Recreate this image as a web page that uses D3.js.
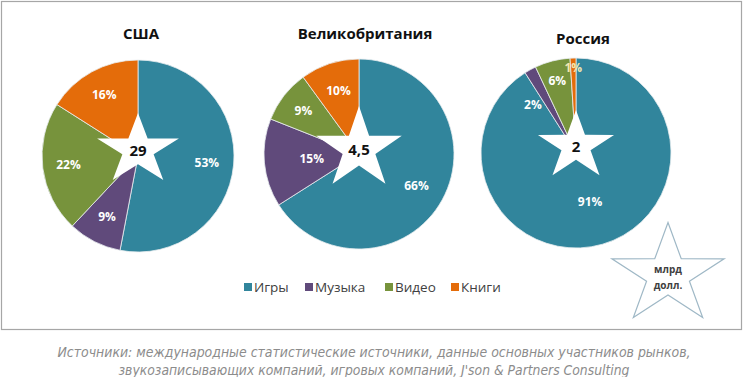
<!DOCTYPE html>
<html>
<head>
<meta charset="utf-8">
<script src="https://cdn.jsdelivr.net/npm/d3@7"></script>
<style>
  html, body { margin: 0; padding: 0; background: #fff; }
  svg { display: block; }
</style>
</head>
<body>
<script>
// data
const countries = ["США", "Великобритания", "Россия"];
const totals = ["29", "4,5", "2"];
const categories = ["Игры", "Музыка", "Видео", "Книги"];
const shares = [
  [53, 9, 22, 16],
  [66, 15, 9, 10],
  [91, 2, 6, 1]
];
const unitLines = ["млрд", "долл."];
const sourceLines = [
  "Источники: международные статистические источники, данные основных участников рынков,",
  "звукозаписывающих компаний, игровых компаний, J'son & Partners Consulting"
];

const width = 750, height = 377;
const colors = ["#31859C", "#604A7B", "#77933C", "#E46C0A"];
const font = "'Open Sans', 'Noto Sans', sans-serif";

// layout of each pie
const layout = [
  { cx: 138, cy: 156, r: 96, tx: 141, ty: 39, star: { rx: 43, ry: 37, dy: -6 }, lr: [0.72, 0.71, 0.73, 0.73] },
  { cx: 359, cy: 154, r: 95, tx: 365, ty: 39, star: { rx: 45, ry: 43, dy: -5 }, lr: [0.69, 0.5, 0.74, 0.7] },
  { cx: 576, cy: 153, r: 95, tx: 583, ty: 44, star: { rx: 40, ry: 36, dy: -7 }, lr: [0.53, 0.68, 0.79, 0.9] }
];
const nudge = { "2-1": [-12, 8] };

const svg = d3.select("body").append("svg")
  .attr("width", width)
  .attr("height", height);

svg.append("rect")
  .attr("x", 1.5).attr("y", 1.5)
  .attr("width", 740).attr("height", 328)
  .attr("fill", "#fff")
  .attr("stroke", "#a6a6a6")
  .attr("stroke-width", 1.2);

function starPath(rx, ry) {
  const pts = d3.range(10).map(i => {
    const a = i * Math.PI / 5;
    const k = i % 2 ? 0.382 : 1;
    return [Math.sin(a) * rx * k, -Math.cos(a) * ry * k];
  });
  return d3.line()(pts) + "Z";
}

const pie = d3.pie().sort(null).value(d => d);

countries.forEach((name, ci) => {
  const L = layout[ci];
  const g = svg.append("g").attr("transform", `translate(${L.cx},${L.cy})`);
  const arc = d3.arc().innerRadius(0).outerRadius(L.r);
  const arcs = pie(shares[ci]);

  g.selectAll("path.slice")
    .data(arcs)
    .join("path")
    .attr("class", "slice")
    .attr("d", arc)
    .attr("fill", (d, i) => colors[i])
    .attr("stroke", "#e8eef0")
    .attr("stroke-width", 0.8);

  g.append("path")
    .attr("transform", `translate(0,${L.star.dy})`)
    .attr("d", starPath(L.star.rx, L.star.ry))
    .attr("fill", "#fff");

  g.append("text")
    .attr("y", L.star.dy + 6)
    .attr("text-anchor", "middle")
    .attr("font-family", font)
    .attr("font-weight", "bold")
    .attr("font-size", 15)
    .attr("fill", "#111")
    .text(totals[ci]);

  g.selectAll("text.pct")
    .data(arcs)
    .join("text")
    .attr("class", "pct")
    .attr("transform", (d, i) => {
      const a = (d.startAngle + d.endAngle) / 2;
      const rr = L.r * L.lr[i];
      const n = nudge[ci + "-" + i] || [0, 0];
      return `translate(${Math.sin(a) * rr + n[0]},${-Math.cos(a) * rr + n[1]})`;
    })
    .attr("dy", "0.36em")
    .attr("text-anchor", "middle")
    .attr("font-family", font)
    .attr("font-weight", "bold")
    .attr("font-size", 12)
    .attr("fill", (d, i) => ci === 2 && i === 3 ? "#f2e6b0" : "#fff")
    .text(d => d.data + "%");

  svg.append("text")
    .attr("x", L.tx)
    .attr("y", L.ty)
    .attr("text-anchor", "middle")
    .attr("font-family", font)
    .attr("font-weight", "bold")
    .attr("font-size", 15)
    .attr("fill", "#111")
    .text(name);
});

// legend
const legendX = d3.scaleOrdinal().domain(categories).range([244, 305, 385, 451]);
const lg = svg.append("g").selectAll("g")
  .data(categories)
  .join("g")
  .attr("transform", d => `translate(${legendX(d)},283)`);
lg.append("rect")
  .attr("width", 8).attr("height", 8)
  .attr("fill", (d, i) => colors[i]);
lg.append("text")
  .attr("x", 10).attr("y", 9)
  .attr("font-family", font)
  .attr("font-size", 13.5)
  .attr("fill", "#404040")
  .text(d => d);

// unit star
const ug = svg.append("g").attr("transform", "translate(668,275)");
ug.append("path")
  .attr("d", starPath(59, 52.5))
  .attr("fill", "#fff")
  .attr("stroke", "#9fb8c6")
  .attr("stroke-width", 1.2);
ug.selectAll("text")
  .data(unitLines)
  .join("text")
  .attr("y", (d, i) => -2 + i * 16)
  .attr("text-anchor", "middle")
  .attr("font-family", font)
  .attr("font-weight", "bold")
  .attr("font-size", 10)
  .attr("fill", "#404040")
  .text(d => d);

// footer
const lens = [633, 511];
svg.selectAll("text.src")
  .data(sourceLines)
  .join("text")
  .attr("class", "src")
  .attr("x", 374)
  .attr("y", (d, i) => 357 + i * 18)
  .attr("text-anchor", "middle")
  .attr("font-family", "'Liberation Sans Narrow', 'DejaVu Sans Condensed', sans-serif")
  .attr("font-style", "italic")
  .attr("font-size", 14)
  .attr("fill", "#8c8c8c")
  .attr("textLength", (d, i) => lens[i])
  .attr("lengthAdjust", "spacingAndGlyphs")
  .text(d => d);
</script>
</body>
</html>
